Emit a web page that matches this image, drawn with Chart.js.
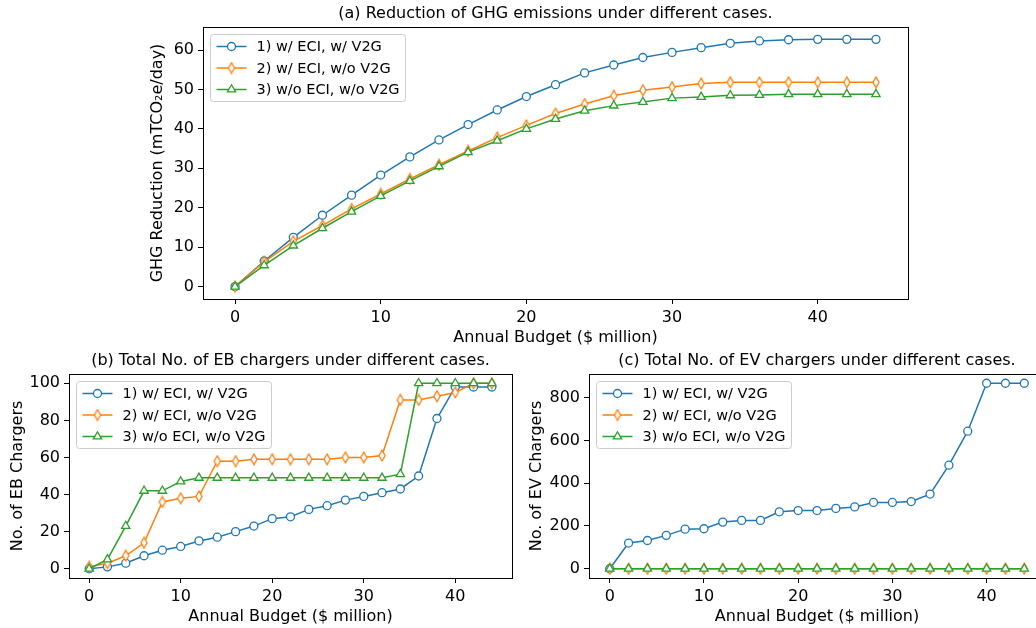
<!DOCTYPE html>
<html>
<head>
<meta charset="utf-8">
<script src="https://cdn.jsdelivr.net/npm/chart.js@4.4.0/dist/chart.umd.min.js"></script>
<style>
html, body { margin: 0; padding: 0; background: #fff; overflow: hidden; width: 1036px; height: 628px; }
canvas { position: absolute; left: 0; top: 0; }
</style>
</head>
<body>
<canvas id="chart-ghg" width="1060" height="628"></canvas>
<canvas id="chart-eb" width="1060" height="628"></canvas>
<canvas id="chart-ev" width="1060" height="628"></canvas>
<script>
// DATA
const budget = [0, 2, 4, 6, 8, 10, 12, 14, 16, 18, 20, 22, 24, 26, 28, 30, 32, 34, 36, 38, 40, 42, 44];
const caseNames = ['1) w/ ECI, w/ V2G', '2) w/ ECI, w/o V2G', '3) w/o ECI, w/o V2G'];

const ghgCase1 = [0, 6.5, 12.5, 18.1, 23.2, 28.3, 32.9, 37.2, 41.1, 44.8, 48.2, 51.2, 54.2, 56.2, 58.1, 59.4, 60.6, 61.7, 62.3, 62.6, 62.7, 62.7, 62.7];
const ghgCase2 = [0, 6.3, 11.5, 15.5, 19.7, 23.5, 27.3, 30.9, 34.4, 37.8, 40.9, 43.9, 46.3, 48.4, 49.8, 50.6, 51.5, 51.8, 51.8, 51.8, 51.8, 51.8, 51.8];
const ghgCase3 = [0, 5.4, 10.4, 14.8, 19.0, 23.0, 26.8, 30.5, 34.1, 37.0, 40.0, 42.5, 44.6, 45.9, 46.8, 47.8, 48.1, 48.5, 48.6, 48.8, 48.8, 48.8, 48.8];

const ebCase1 = [0, 1, 3, 7, 10, 12, 15, 17, 20, 23, 27, 28, 32, 34, 37, 39, 41, 43, 50, 81, 98, 98, 98];
const ebCase2 = [1, 3, 7, 14, 36, 38, 39, 58, 58, 59, 59, 59, 59, 59, 60, 60, 61, 91, 91, 93, 95, 100, 100];
const ebCase3 = [0, 5, 23, 42, 42, 47, 49, 49, 49, 49, 49, 49, 49, 49, 49, 49, 49, 51, 100, 100, 100, 100, 100];

const evCase1 = [0, 120, 132, 156, 185, 187, 218, 226, 226, 266, 272, 272, 282, 289, 310, 310, 314, 349, 484, 643, 867, 867, 867];
const evCase2 = [0, 0, 0, 0, 0, 0, 0, 0, 0, 0, 0, 0, 0, 0, 0, 0, 0, 0, 0, 0, 0, 0, 0];
const evCase3 = [0, 0, 0, 0, 0, 0, 0, 0, 0, 0, 0, 0, 0, 0, 0, 0, 0, 0, 0, 0, 0, 0, 0];

const budgetTicks = [0, 10, 20, 30, 40];
const ghgTicks = [0, 10, 20, 30, 40, 50, 60];
const ebTicks = [0, 20, 40, 60, 80, 100];
const evTicks = [0, 200, 400, 600, 800];

// STYLE
const FONT = "'DejaVu Sans', 'Liberation Sans', sans-serif";
const colors = ['#1f77b4', '#ff7f0e', '#2ca02c'];

function thinDiamond(color) {
    const c = document.createElement('canvas');
    c.width = 10; c.height = 13;
    const g = c.getContext('2d');
    g.beginPath();
    g.moveTo(5, 1.2); g.lineTo(8.1, 6.5); g.lineTo(5, 11.8); g.lineTo(1.9, 6.5);
    g.closePath();
    g.fillStyle = '#fff'; g.fill();
    g.lineWidth = 1.3; g.strokeStyle = color; g.stroke();
    return c;
}
const diamondImg = thinDiamond(colors[1]);
const markers = [
    { pointStyle: 'circle', pointRadius: 4 },
    { pointStyle: diamondImg, pointRadius: 5 },
    { pointStyle: 'triangle', pointRadius: 4.8 }
];

function pts(ys) { return budget.map((x, i) => ({ x: x, y: ys[i] })); }

// matplotlib-like frame, titles and legend drawn over the chart
const mplDecor = {
    id: 'mplDecor',
    afterDraw(chart, args, opts) {
        const ctx = chart.ctx;
        const a = chart.chartArea;
        ctx.save();
        ctx.strokeStyle = '#000';
        ctx.lineWidth = 1;
        ctx.strokeRect(Math.round(a.left) + 0.5, Math.round(a.top) + 0.5, Math.round(a.right - a.left), Math.round(a.bottom - a.top));

        ctx.fillStyle = '#000';
        ctx.font = '16px ' + FONT;
        ctx.textAlign = 'center';
        ctx.textBaseline = 'middle';
        const cx = (a.left + a.right) / 2;
        ctx.fillText(opts.title, cx, a.top - 13);
        ctx.fillText(opts.xTitle, cx, a.bottom + 39);
        ctx.save();
        ctx.translate(opts.yTitleX, (a.top + a.bottom) / 2);
        ctx.rotate(-Math.PI / 2);
        ctx.fillText(opts.yTitle, 0, 0);
        ctx.restore();

        // legend box
        const bx = a.left + 7.5, by = a.top + 7.5, bw = 195, bh = 67, r = 3;
        ctx.beginPath();
        ctx.moveTo(bx + r, by);
        ctx.arcTo(bx + bw, by, bx + bw, by + bh, r);
        ctx.arcTo(bx + bw, by + bh, bx, by + bh, r);
        ctx.arcTo(bx, by + bh, bx, by, r);
        ctx.arcTo(bx, by, bx + bw, by, r);
        ctx.closePath();
        ctx.fillStyle = 'rgba(255,255,255,0.8)';
        ctx.fill();
        ctx.strokeStyle = '#cccccc';
        ctx.lineWidth = 1;
        ctx.stroke();

        ctx.font = '14.5px ' + FONT;
        chart.data.datasets.forEach((ds, i) => {
            const yy = by + 12 + i * 21.5;
            ctx.strokeStyle = ds.borderColor;
            ctx.lineWidth = 1.5;
            ctx.beginPath();
            ctx.moveTo(bx + 6, yy);
            ctx.lineTo(bx + 36, yy);
            ctx.stroke();
            const mx = bx + 21;
            if (ds.pointStyle === 'circle') {
                ctx.beginPath();
                ctx.arc(mx, yy, 4, 0, Math.PI * 2);
                ctx.fillStyle = '#fff'; ctx.fill();
                ctx.lineWidth = 1.3; ctx.stroke();
            } else if (ds.pointStyle === 'triangle') {
                const rr = 4.8;
                ctx.beginPath();
                ctx.moveTo(mx, yy - rr);
                ctx.lineTo(mx + Math.sin(2 * Math.PI / 3) * rr, yy - Math.cos(2 * Math.PI / 3) * rr);
                ctx.lineTo(mx + Math.sin(4 * Math.PI / 3) * rr, yy - Math.cos(4 * Math.PI / 3) * rr);
                ctx.closePath();
                ctx.fillStyle = '#fff'; ctx.fill();
                ctx.lineWidth = 1.3; ctx.stroke();
            } else {
                ctx.drawImage(ds.pointStyle, mx - ds.pointStyle.width / 2, yy - ds.pointStyle.height / 2);
            }
            ctx.fillStyle = '#000';
            ctx.textAlign = 'left';
            ctx.textBaseline = 'middle';
            ctx.fillText(ds.label, bx + 46, yy + 1);
        });
        ctx.restore();
    }
};

function makePanel(id, area, yMin, yMax, yTicks, series, texts) {
    const el = document.getElementById(id);
    const yW = 60, xH = 30;
    const datasets = series.map((ys, i) => Object.assign({
        label: caseNames[i],
        data: pts(ys),
        borderColor: colors[i],
        backgroundColor: '#fff',
        borderWidth: 1.5,
        pointBorderWidth: 1.3,
        pointBackgroundColor: '#fff',
        pointBorderColor: colors[i],
        tension: 0,
        order: 3 - i
    }, markers[i]));
    const axisCommon = {
        type: 'linear',
        grid: { display: true, drawOnChartArea: false, drawTicks: true, tickLength: 5, color: '#000', lineWidth: 1 },
        border: { display: true, color: '#000', width: 1 },
        ticks: { color: '#000', font: { family: FONT, size: 16 }, autoSkip: false, maxRotation: 0 }
    };
    return new Chart(el, {
        type: 'line',
        data: { datasets: datasets },
        options: {
            responsive: false,
            animation: false,
            devicePixelRatio: 1,
            layout: { autoPadding: false, padding: { left: area.left - yW, top: area.top, right: el.width - area.right, bottom: el.height - area.bottom - xH } },
            plugins: { legend: { display: false }, tooltip: { enabled: false }, title: { display: false }, mplDecor: texts },
            scales: {
                x: Object.assign({}, axisCommon, {
                    min: -2.2, max: 46.2,
                    ticks: Object.assign({}, axisCommon.ticks, { padding: 4 }),
                    afterBuildTicks: s => { s.ticks = budgetTicks.map(v => ({ value: v })); },
                    afterFit: s => { s.height = xH; }
                }),
                y: Object.assign({}, axisCommon, {
                    min: yMin, max: yMax,
                    ticks: Object.assign({}, axisCommon.ticks, { padding: 4 }),
                    afterBuildTicks: s => { s.ticks = yTicks.map(v => ({ value: v })); },
                    afterFit: s => { s.width = yW; }
                })
            }
        },
        plugins: [mplDecor]
    });
}

makePanel('chart-ghg', { left: 203, top: 27, right: 908, bottom: 299 }, -3.135, 65.835, ghgTicks,
    [ghgCase1, ghgCase2, ghgCase3],
    { title: '(a) Reduction of GHG emissions under different cases.', xTitle: 'Annual Budget ($ million)', yTitle: 'GHG Reduction (mTCO₂e/day)', yTitleX: 158 });

makePanel('chart-eb', { left: 69, top: 374, right: 512, bottom: 578 }, -5, 105, ebTicks,
    [ebCase1, ebCase2, ebCase3],
    { title: '(b) Total No. of EB chargers under different cases.', xTitle: 'Annual Budget ($ million)', yTitle: 'No. of EB Chargers', yTitleX: 18 });

makePanel('chart-ev', { left: 589, top: 374, right: 1045, bottom: 578 }, -43.35, 910.35, evTicks,
    [evCase1, evCase2, evCase3],
    { title: '(c) Total No. of EV chargers under different cases.', xTitle: 'Annual Budget ($ million)', yTitle: 'No. of EV Chargers', yTitleX: 537 });
</script>
</body>
</html>
